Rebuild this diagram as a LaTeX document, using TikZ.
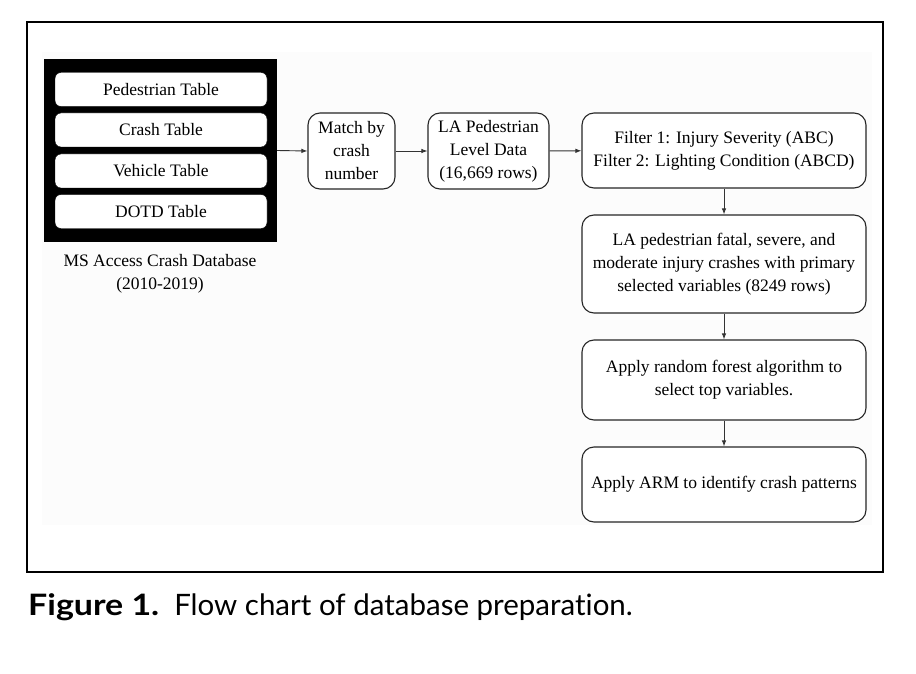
\documentclass[tikz,border=0pt]{standalone}
\usepackage{fontspec}
\setmainfont{Liberation Serif}
\newfontfamily\capfont[Ligatures=NoCommon]{Lato}
\usetikzlibrary{arrows.meta}
\usetikzlibrary{positioning}

\tikzset{
  tablebox/.style={draw=black, fill=white, rounded corners=6pt, minimum width=212pt, minimum height=34pt, inner sep=0pt, font=\fontsize{17.5}{23}\selectfont},
  flowbox/.style={draw=black!85, line width=1.1pt, fill=white, rounded corners=12pt, inner sep=0pt, align=center, font=\fontsize{17.5}{23}\selectfont},
  flowarrow/.style={draw=black!80, line width=0.9pt, -{Latex[length=6pt,width=4.5pt]}}
}

\begin{document}
\begin{tikzpicture}[x=1pt,y=-1pt]
\useasboundingbox (0,0) rectangle (916,674);

%Frame
\fill [black!1] (42,52) rectangle (872,525);
\draw [line width=2.6pt] (27,22) rectangle (883,572);

%Database block
\node [fill=black, minimum width=233pt, minimum height=183pt, inner sep=0pt] (db) at (160.5,150.5) {};
\node [tablebox] (pedtab) at (161,89.5) {Pedestrian Table};
\node [tablebox] (crashtab) at (161,130) {Crash Table};
\node [tablebox] (vehtab) at (161,171) {Vehicle Table};
\node [tablebox] (dotdtab) at (161,211.5) {DOTD Table};
\node [align=center, inner sep=0pt, font=\fontsize{17.5}{23}\selectfont] (dblabel) at (160,274) {MS Access Crash Database\\(2010-2019)};

%Flow boxes
\node [flowbox, minimum width=87pt, minimum height=76pt] (match) at (351.5,151) {Match by\\crash\\number};
\node [flowbox, minimum width=121pt, minimum height=76pt] (lapd) at (488.5,151) {LA Pedestrian\\Level Data\\(16,669 rows)};
\node [flowbox, minimum width=284pt, minimum height=75pt] (filt) at (724,150.5) {Filter 1: Injury Severity (ABC)\\Filter 2: Lighting Condition (ABCD)};
\node [flowbox, minimum width=284pt, minimum height=98pt] (sel) at (724,264) {LA pedestrian fatal, severe, and\\moderate injury crashes with primary\\selected variables (8249 rows)};
\node [flowbox, minimum width=284pt, minimum height=80pt] (rf) at (724,380) {Apply random forest algorithm to\\select top variables.};
\node [flowbox, minimum width=284pt, minimum height=75pt] (arm) at (724,484.5) {Apply ARM to identify crash patterns};

%Arrows
\draw [flowarrow] (db.east) -- (match.west);
\draw [flowarrow] (match) -- (lapd);
\draw [flowarrow] (lapd) -- (filt);
\draw [flowarrow] (filt) -- (sel);
\draw [flowarrow] (sel) -- (rf);
\draw [flowarrow] (rf) -- (arm);

%Caption
\node [anchor=base west, inner sep=0pt, font=\capfont\fontsize{29.5}{34}\selectfont] (caption) at (28,615) {\scalebox{1.15}[1]{\textbf{Figure 1.}}\hspace{15pt}Flow chart of database preparation.};
\end{tikzpicture}
\end{document}
